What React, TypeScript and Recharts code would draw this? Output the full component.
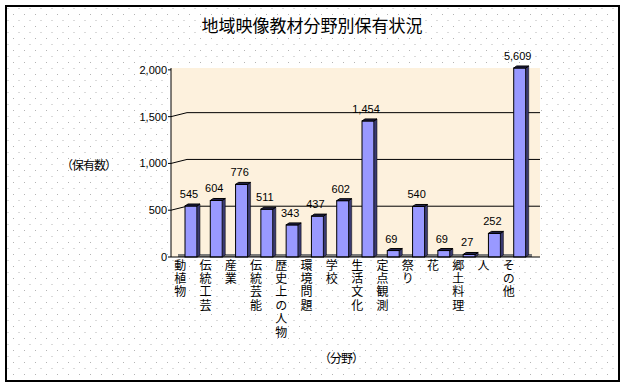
import React from 'react';
import { BarChart, Bar, XAxis, YAxis, CartesianGrid, LabelList, ReferenceArea } from 'recharts';

const categories = ['動植物', '伝統工芸', '産業', '伝統芸能', '歴史上の人物', '環境問題', '学校', '生活文化', '定点観測', '祭り', '花', '郷土料理', '人', 'その他'];
const counts = [545, 604, 776, 511, 343, 437, 602, 1454, 69, 540, 69, 27, 252, 5609];
const yTicks = [0, 500, 1000, 1500, 2000];
const axisMax = 2020;
const floorDepth = 32;

const title = '地域映像教材分野別保有状況';
const yLabel = '（保有数）';
const xLabel = '（分野）';

const data = categories.map((name, i) => ({ name, value: counts[i], plotted: Math.min(counts[i], axisMax) }));

const JP = '"Noto Sans CJK JP", "Noto Sans", sans-serif';
const NUM = '"Liberation Sans", Arial, sans-serif';

const Bar3D = (props: any) => {
  const { x, y, width, height } = props;
  if (height == null || width == null) return null;
  const d = 3;
  const v = 2;
  return (
    <g>
      <rect x={x} y={y} width={width} height={height} fill="#9999ff" stroke="#000" strokeWidth={1} />
      <polygon points={`${x + width},${y} ${x + width + d},${y - v} ${x + width + d},${y + height - v} ${x + width},${y + height}`} fill="#3a3a70" stroke="#000" strokeWidth={0.5} />
      <polygon points={`${x},${y} ${x + d},${y - v} ${x + width + d},${y - v} ${x + width},${y}`} fill="#22224a" stroke="#000" strokeWidth={1} />
    </g>
  );
};

const ValueLabel = (props: any) => {
  const { x, y, width, value } = props;
  return (
    <text x={x + width / 2 - 2} y={y - 8} textAnchor="middle" fontSize={11} fontFamily={NUM} fill="#000">
      {Number(value).toLocaleString('en-US')}
    </text>
  );
};

const CategoryTick = (props: any) => {
  const { x, y, payload } = props;
  const cx = x - 10.5;
  return (
    <text
      x={cx}
      y={y + 2}
      fontSize={12}
      fontFamily={JP}
      fill="#000"
      style={{ writingMode: 'vertical-rl', letterSpacing: 1.4 } as any}
    >
      {String(payload.value)}
    </text>
  );
};

const gridLine = (props: any) => {
  const { x1, y1, x2, y, height } = props;
  if (y1 <= y + 3 || y1 >= y + height - 3) return <g key={props.key} />;
  return <path key={props.key} d={`M${x1},${y1} L${x1 + 16},${y1 - 4} L${x2},${y1 - 4}`} stroke="#000" strokeWidth={1} fill="none" />;
};

export default function App() {
  return (
    <div style={{ position: 'absolute', left: 0, top: 0, width: 626, height: 388, background: '#fff' }}>
      <svg width={626} height={388} style={{ position: 'absolute', left: 0, top: 0 }}>
        <defs>
          <pattern id="dots" x="0" y="0" width="11" height="12" patternUnits="userSpaceOnUse">
            <rect x="2" y="2" width="1" height="1" fill="#b4b4b4" />
            <rect x="7.5" y="8" width="1" height="1" fill="#b4b4b4" />
          </pattern>
        </defs>
        <rect x={6} y={6} width={613} height={375} fill="url(#dots)" stroke="#000" strokeWidth={2} />
      </svg>
      <div style={{ position: 'absolute', left: 0, top: 0 }}>
        <BarChart width={626} height={388} data={data} margin={{ top: 68, right: 86, bottom: 11, left: 131 }}>
          <CartesianGrid vertical={false} horizontal={gridLine} fill="#fdf1dd" stroke="#000" />
          <ReferenceArea y1={0} y2={floorDepth} fill="#7a7a7a" fillOpacity={1} stroke="none" />
          <XAxis
            dataKey="name"
            interval={0}
            padding={{ left: 7, right: 8 }}
            tick={<CategoryTick />}
            tickLine={false}
            tickSize={0}
            tickMargin={0}
            height={120}
            axisLine={{ stroke: '#000', strokeWidth: 1 }}
          />
          <YAxis
            domain={[0, axisMax]}
            ticks={yTicks}
            width={40}
            tickSize={3}
            tickMargin={1}
            tickFormatter={(v: number) => v.toLocaleString('en-US')}
            tick={{ fontSize: 11, fontFamily: NUM, fill: '#000' }}
            axisLine={{ stroke: '#000', strokeWidth: 1 }}
            tickLine={{ stroke: '#000' }}
          />
          <Bar dataKey="plotted" barSize={12} shape={<Bar3D />} isAnimationActive={false}>
            <LabelList dataKey="value" content={<ValueLabel />} />
          </Bar>
        </BarChart>
      </div>
      <div style={{ position: 'absolute', left: 0, width: 626, top: 14, textAlign: 'center', fontFamily: JP, fontSize: 17, lineHeight: '22px', color: '#000' }}>
        <span style={{ position: 'relative', left: -1 }}>{title}</span>
      </div>
      <div style={{ position: 'absolute', left: 61, top: 157, fontFamily: JP, fontSize: 12, lineHeight: '16px', letterSpacing: -1, color: '#000', whiteSpace: 'nowrap' }}>
        {yLabel}
      </div>
      <div style={{ position: 'absolute', left: 319, top: 350, fontFamily: JP, fontSize: 12, lineHeight: '16px', letterSpacing: -1, color: '#000', whiteSpace: 'nowrap' }}>
        {xLabel}
      </div>
    </div>
  );
}
